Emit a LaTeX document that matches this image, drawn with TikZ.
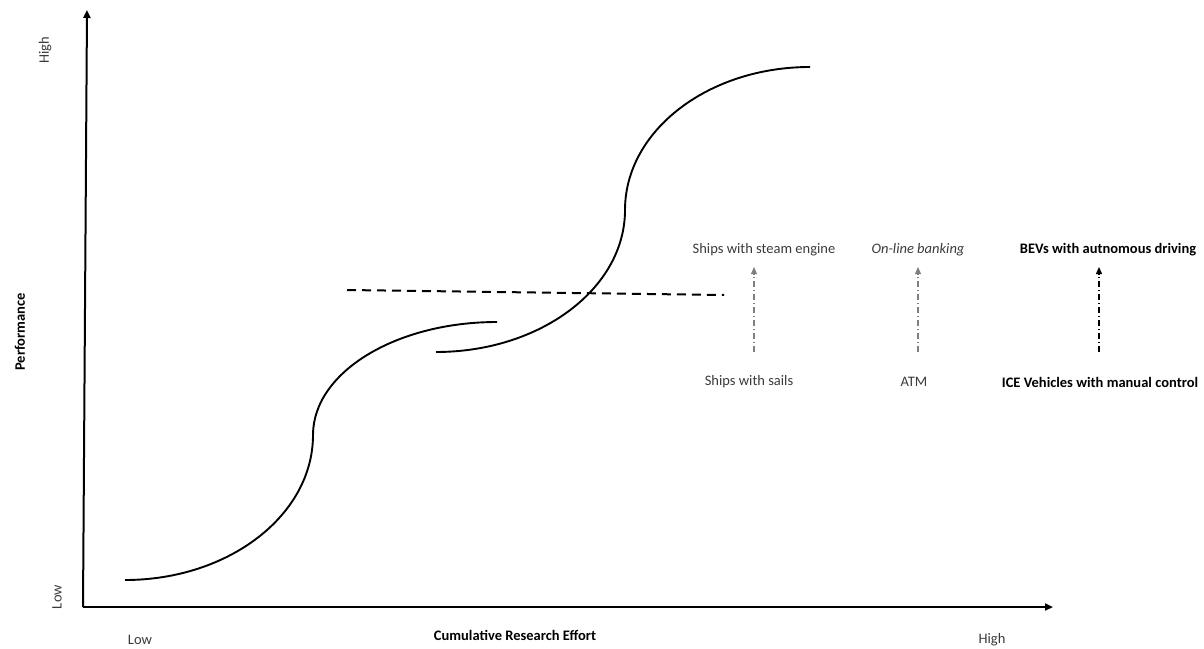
\documentclass[tikz,border=0pt]{standalone}
\usepackage{fontspec}
\setmainfont{Carlito}
\usetikzlibrary{arrows.meta}
\definecolor{labelgray}{HTML}{3A3A3A}
\definecolor{arrowgray}{HTML}{7F7F7F}
\begin{document}
\begin{tikzpicture}[x=1pt,y=-1pt,
  axis/.style={line width=2pt,-{Triangle[length=8pt,width=7pt]}},
  scurve/.style={line width=1.9pt},
  lbl/.style={font=\fontsize{14.5}{17}\selectfont,text=labelgray,inner sep=0pt},
  boldlbl/.style={font=\fontsize{14.5}{17}\selectfont\bfseries,text=black,inner sep=0pt},
  techshift/.style={line width=1.2pt,dash pattern=on 6pt off 3pt on 1pt off 3pt,
                -{Triangle[length=7pt,width=6pt]}}]
\useasboundingbox (0,0) rectangle (1204,648);

% axes
\coordinate (origin) at (83,607);
\coordinate (ytop) at (87,10);
\coordinate (xend) at (1053,607);
\draw[axis] (origin) -- (ytop);
\draw[axis] (origin) -- (xend);

% axis labels
\node[lbl,rotate=90] (yhigh) at (45,50) {High};
\node[lbl,rotate=90] (ylow) at (57,597) {Low};
\node[boldlbl,rotate=90] (perf) at (20,332) {Performance};
\node[lbl] (xlow) at (140,640) {Low};
\node[boldlbl] (effort) at (515,635) {Cumulative Research Effort};
\node[lbl] (xhigh) at (992,640) {High};

% first S-curve
\draw[scurve] (125,580) .. controls (228.8,580) and (313,515.1) .. (313,435)
              .. controls (313,372.6) and (395.4,322) .. (497,322);
% second S-curve
\draw[scurve] (436,352) .. controls (540.4,352) and (625,288.4) .. (625,210)
              .. controls (625,131) and (707.8,67) .. (810,67);

% performance limit
\coordinate (limA) at (347,290);
\coordinate (limB) at (724,295);
\draw[line width=2pt,dash pattern=on 9pt off 6pt] (limA) -- (limB);

% technology shifts
\node[lbl] (steam) at (764,250) {Ships with steam engine};
\node[lbl] (sails) at (749,382) {Ships with sails};
\node[lbl,font=\fontsize{14.5}{17}\selectfont\itshape] (online) at (918,250) {On-line banking};
\node[lbl] (atm) at (914,382) {ATM};
\node[boldlbl] (bev) at (1108,250) {BEVs with autnomous driving};
\node[boldlbl] (ice) at (1100,382) {ICE Vehicles with manual control};

\coordinate (s1) at (754,352); \coordinate (e1) at (754,267);
\coordinate (s2) at (918,352); \coordinate (e2) at (918,267);
\coordinate (s3) at (1099,352); \coordinate (e3) at (1099,267);
\draw[techshift,draw=arrowgray] (s1) -- (e1);
\draw[techshift,draw=arrowgray] (s2) -- (e2);
\draw[techshift,draw=black] (s3) -- (e3);
\end{tikzpicture}
\end{document}
